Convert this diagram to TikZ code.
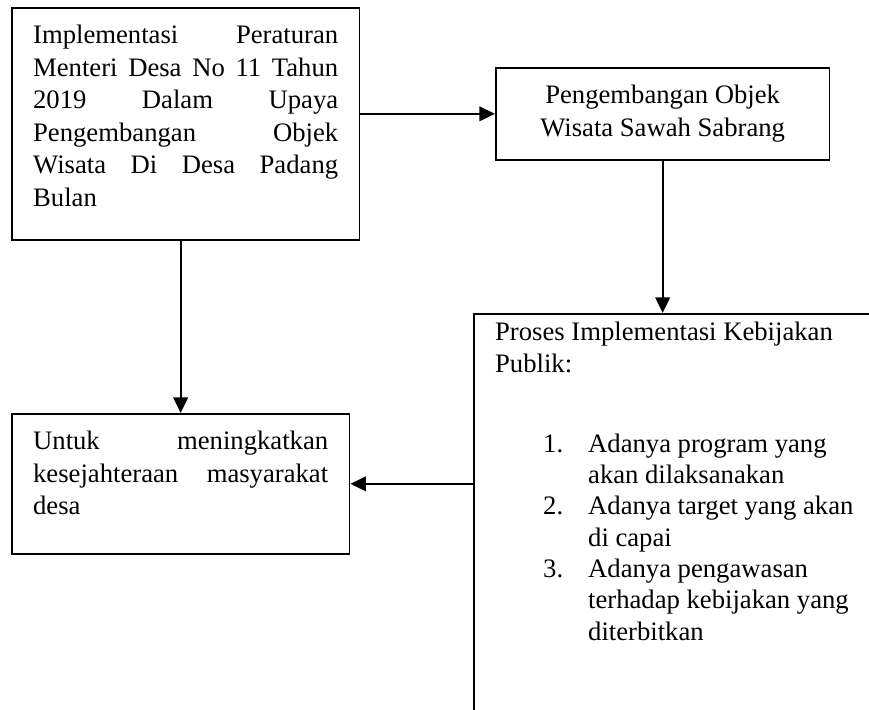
\documentclass[tikz,border=0pt]{standalone}
\usepackage{fontspec}
\setmainfont{Liberation Serif}
\usepackage{enumitem}
\usepackage{tikz}
\usetikzlibrary{arrows.meta}
\definecolor{inkblack}{RGB}{0,0,0}
\tikzset{
  flowbox/.style={draw=inkblack,line width=0.75pt,anchor=north west,
    inner xsep=9.6pt,inner ysep=6pt},
  flow/.style={-{Triangle[length=7pt,width=6.5pt]},line width=1pt,draw=inkblack}
}
\newcommand{\boxtext}[3]{\parbox[c][#2][t]{#1}{\tolerance=10000\hbadness=10000
  \hyphenpenalty=10000 #3}}

\begin{document}
\begin{tikzpicture}[x=0.45pt,y=-0.45pt,font={\fontsize{12pt}{14.6pt}\selectfont}]
  \path[use as bounding box,clip] (0,0) rectangle (869,709);
  \node[flowbox] (impl) at (11,7) {\boxtext{137.25pt}{92.4pt}{\strut
    Implementasi Peraturan\linebreak Menteri Desa No 11 Tahun\linebreak
    2019 Dalam Upaya\linebreak Pengembangan Objek\linebreak
    Wisata Di Desa Padang\linebreak Bulan}};
  \node[flowbox] (wisata) at (495,67) {\boxtext{130.95pt}{29.4pt}{\centering\strut
    Pengembangan Objek\\Wisata Sawah Sabrang}};
  \node[flowbox,inner ysep=2.3pt,font={\fontsize{12pt}{14.1pt}\selectfont}] (proses)
    at (473,313) {\boxtext{168.75pt}{205pt}{\raggedright\strut
    Proses Implementasi Kebijakan\\Publik:%
    \begin{enumerate}[label=\arabic*.,leftmargin=41.85pt,labelwidth=20.25pt,
      labelsep=0pt,align=left,topsep=21.8pt,partopsep=0pt,itemsep=0pt,parsep=0pt]
      \item Adanya program yang\newline akan dilaksanakan
      \item Adanya target yang akan\newline di capai
      \item Adanya pengawasan\newline terhadap kebijakan yang\newline diterbitkan
    \end{enumerate}}};
  \node[flowbox] (sejahtera) at (11,413) {\boxtext{132.75pt}{51pt}{\strut
    Untuk meningkatkan\linebreak kesejahteraan masyarakat\linebreak desa}};
  \draw[flow] (impl.east |- wisata.west) -- (wisata.west);
  \draw[flow] (wisata.south) -- (wisata.south |- proses.north);
  \draw[flow] (impl.south -| sejahtera.north) -- (sejahtera.north);
  \draw[flow] (proses.west |- sejahtera.east) -- (sejahtera.east);
\end{tikzpicture}
\end{document}
